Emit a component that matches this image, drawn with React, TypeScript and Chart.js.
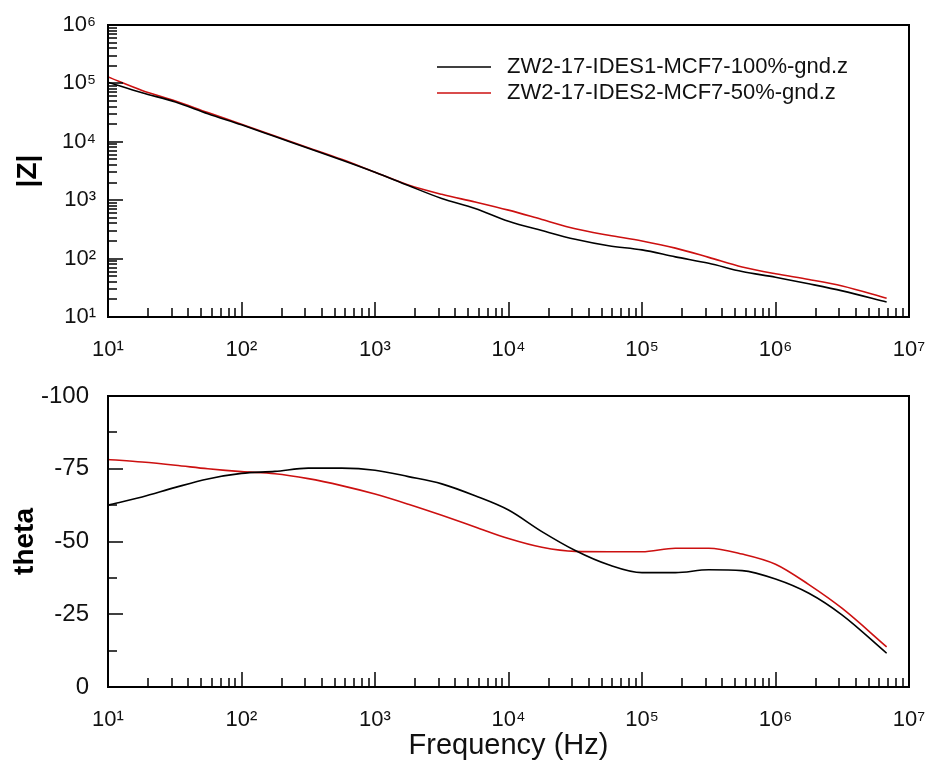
import React, { useEffect, useRef } from 'react';
import { Chart, registerables } from 'chart.js';

Chart.register(...registerables);

// ---- data ----
const frequencyHz = [10, 18, 32, 56, 100, 178, 316, 562, 1000, 1778, 3162, 5623, 10000, 17783, 31623, 56234, 100000, 177828, 316228, 562341, 1000000, 1778279, 3162278, 6800000];
const zBlack = [105000, 69200, 47900, 30200, 19500, 12300, 7760, 4900, 3020, 1780, 1070, 724, 437, 302, 214, 166, 141, 107, 83, 60, 48, 37, 28, 18];
const zRed = [129000, 75900, 50100, 31600, 20000, 12600, 7940, 5010, 3020, 1820, 1260, 933, 676, 468, 324, 251, 200, 151, 105, 72, 55, 44, 34, 21];
const thetaBlack = [-62.5, -65.3, -68.6, -71.5, -73.4, -74.1, -75.2, -75.2, -74.5, -72.3, -69.8, -65.7, -60.8, -53.4, -46.9, -42.0, -39.3, -39.3, -40.3, -40.0, -37.1, -32.2, -24.7, -11.6];
const thetaRed = [-78.2, -77.3, -76.2, -75.0, -74.0, -73.3, -71.6, -69.2, -66.3, -62.8, -59.0, -55.0, -51.0, -48.0, -46.6, -46.5, -46.5, -47.7, -47.7, -45.7, -42.2, -35.2, -27.0, -13.8];
const seriesNames = ['ZW2-17-IDES1-MCF7-100%-gnd.z', 'ZW2-17-IDES2-MCF7-50%-gnd.z'];
const seriesColors = ['#000000', '#cc1010'];
const freqDecades = [1e1, 1e2, 1e3, 1e4, 1e5, 1e6, 1e7];
const zDecades = [1e1, 1e2, 1e3, 1e4, 1e5, 1e6];
const thetaTicks = [-100, -75, -50, -25, 0];
const thetaMinorTicks = [-87.5, -62.5, -37.5, -12.5];
const yTitleTop = '|Z|';
const yTitleBottom = 'theta';
const xTitle = 'Frequency (Hz)';

const FONT = "'Liberation Sans', Arial, sans-serif";
const SUP: Record<string, string> = { '0': '⁰', '1': '¹', '2': '²', '3': '³', '4': '⁴', '5': '⁵', '6': '⁶', '7': '⁷', '8': '⁸', '9': '⁹' };
const powLabel = (v: number) => '10' + String(Math.round(Math.log10(v))).split('').map((c) => SUP[c] || c).join('');

const logMinor = (decades: number[]) => {
  const out: number[] = [];
  for (let i = 0; i < decades.length - 1; i++) for (let m = 2; m <= 9; m++) out.push(decades[i] * m);
  return out;
};

const frameTicksPlugin = {
  id: 'frameTicks',
  afterDatasetsDraw(chart: any, _args: any, opts: any) {
    const { ctx, chartArea: a, scales } = chart;
    ctx.save();
    ctx.strokeStyle = '#000';
    ctx.lineWidth = 1.5;
    const seg = (x1: number, y1: number, x2: number, y2: number) => {
      ctx.beginPath();
      ctx.moveTo(x1, y1);
      ctx.lineTo(x2, y2);
      ctx.stroke();
    };
    const xs = scales.x;
    const ys = scales.y;
    freqDecades.forEach((v) => { const p = Math.round(xs.getPixelForValue(v)); seg(p, a.bottom, p, a.bottom - 15); });
    logMinor(freqDecades).forEach((v) => { const p = Math.round(xs.getPixelForValue(v)); seg(p, a.bottom, p, a.bottom - 9); });
    (opts.yMajor || []).forEach((v: number) => { const p = Math.round(ys.getPixelForValue(v)); seg(a.left, p, a.left + 15, p); });
    (opts.yMinor || []).forEach((v: number) => { const p = Math.round(ys.getPixelForValue(v)); seg(a.left, p, a.left + 9, p); });
    ctx.lineWidth = 2;
    ctx.strokeRect(a.left, a.top, a.right - a.left, a.bottom - a.top);
    ctx.restore();
  },
};

const legendPlugin = {
  id: 'insideLegend',
  afterDraw(chart: any, _args: any, opts: any) {
    if (!opts || !opts.show) return;
    const { ctx, chartArea: a } = chart;
    ctx.save();
    ctx.font = `22px ${FONT}`;
    ctx.textBaseline = 'middle';
    ctx.textAlign = 'left';
    chart.data.datasets.forEach((ds: any, i: number) => {
      const y = a.top + 42 + i * 26;
      const x0 = a.left + 329;
      ctx.strokeStyle = ds.borderColor;
      ctx.lineWidth = 1.5;
      ctx.beginPath();
      ctx.moveTo(x0, y);
      ctx.lineTo(x0 + 54, y);
      ctx.stroke();
      ctx.fillStyle = '#111';
      ctx.fillText(ds.label, x0 + 70, y);
    });
    ctx.restore();
  },
};

function makeXScale(height: number, withTitle: boolean) {
  return {
    type: 'logarithmic',
    min: 10,
    max: 1e7,
    grid: { display: false, drawTicks: false },
    border: { display: false },
    afterBuildTicks: (s: any) => { s.ticks = freqDecades.map((v) => ({ value: v })); },
    afterFit: (s: any) => { s.height = height; s.paddingLeft = 0; s.paddingRight = 0; },
    ticks: { autoSkip: false, maxRotation: 0, padding: 20, color: '#111', font: { size: 22, family: FONT }, callback: (v: any) => powLabel(Number(v)) },
    title: { display: withTitle, text: xTitle, color: '#111', font: { size: 29, family: FONT }, padding: { top: 0, bottom: 4 } },
  };
}

function PanelChart(props: { which: 'z' | 'theta'; width: number; height: number; top: number }) {
  const ref = useRef<HTMLCanvasElement | null>(null);
  useEffect(() => {
    if (!ref.current) return;
    const isZ = props.which === 'z';
    const blackVals = isZ ? zBlack : thetaBlack;
    const redVals = isZ ? zRed : thetaRed;
    const mk = (vals: number[]) => frequencyHz.map((f, i) => ({ x: f, y: vals[i] }));
    const yScale: any = isZ
      ? {
          type: 'logarithmic',
          min: 10,
          max: 1e6,
          afterBuildTicks: (s: any) => { s.ticks = zDecades.map((v) => ({ value: v })); },
          ticks: { autoSkip: false, padding: 12, color: '#111', font: { size: 22, family: FONT }, callback: (v: any) => powLabel(Number(v)) },
        }
      : {
          type: 'linear',
          min: -100,
          max: 0,
          reverse: true,
          afterBuildTicks: (s: any) => { s.ticks = thetaTicks.map((v) => ({ value: v })); },
          ticks: { autoSkip: false, padding: 19, color: '#111', font: { size: 24, family: FONT }, callback: (v: any) => String(v) },
        };
    Object.assign(yScale, {
      grid: { display: false, drawTicks: false },
      border: { display: false },
      afterFit: (s: any) => { s.width = 108; s.paddingTop = 0; s.paddingBottom = 0; },
      title: { display: true, text: isZ ? yTitleTop : yTitleBottom, color: '#000', font: { size: 28, weight: 'bold', family: FONT }, padding: { top: isZ ? 11 : 8, bottom: 0 } },
    });
    const chart = new Chart(ref.current, {
      type: 'line',
      data: {
        datasets: [
          { label: seriesNames[0], data: mk(blackVals), borderColor: seriesColors[0], borderWidth: 1.6, pointRadius: 0, cubicInterpolationMode: 'monotone', fill: false },
          { label: seriesNames[1], data: mk(redVals), borderColor: seriesColors[1], borderWidth: 1.6, pointRadius: 0, cubicInterpolationMode: 'monotone', fill: false },
        ],
      },
      options: {
        responsive: false,
        animation: false,
        devicePixelRatio: 1,
        layout: { padding: { top: isZ ? 25 : 21, right: 21, left: 0, bottom: 0 } },
        scales: {
          x: makeXScale(isZ ? 58 : 80, !isZ),
          y: yScale,
        },
        plugins: {
          legend: { display: false },
          tooltip: { enabled: false },
          frameTicks: isZ
            ? { yMajor: zDecades, yMinor: logMinor(zDecades) }
            : { yMajor: thetaTicks, yMinor: thetaMinorTicks },
          insideLegend: { show: isZ },
        } as any,
      } as any,
      plugins: [frameTicksPlugin, legendPlugin],
    } as any);
    return () => chart.destroy();
  }, [props.which]);
  return (
    <canvas
      ref={ref}
      width={props.width}
      height={props.height}
      style={{ position: 'absolute', left: 0, top: props.top, width: props.width, height: props.height }}
    />
  );
}

export default function App() {
  return (
    <div style={{ position: 'absolute', left: 0, top: 0, width: 930, height: 767, background: '#ffffff', overflow: 'hidden' }}>
      <PanelChart which="z" width={930} height={375} top={0} />
      <PanelChart which="theta" width={930} height={392} top={375} />
    </div>
  );
}
